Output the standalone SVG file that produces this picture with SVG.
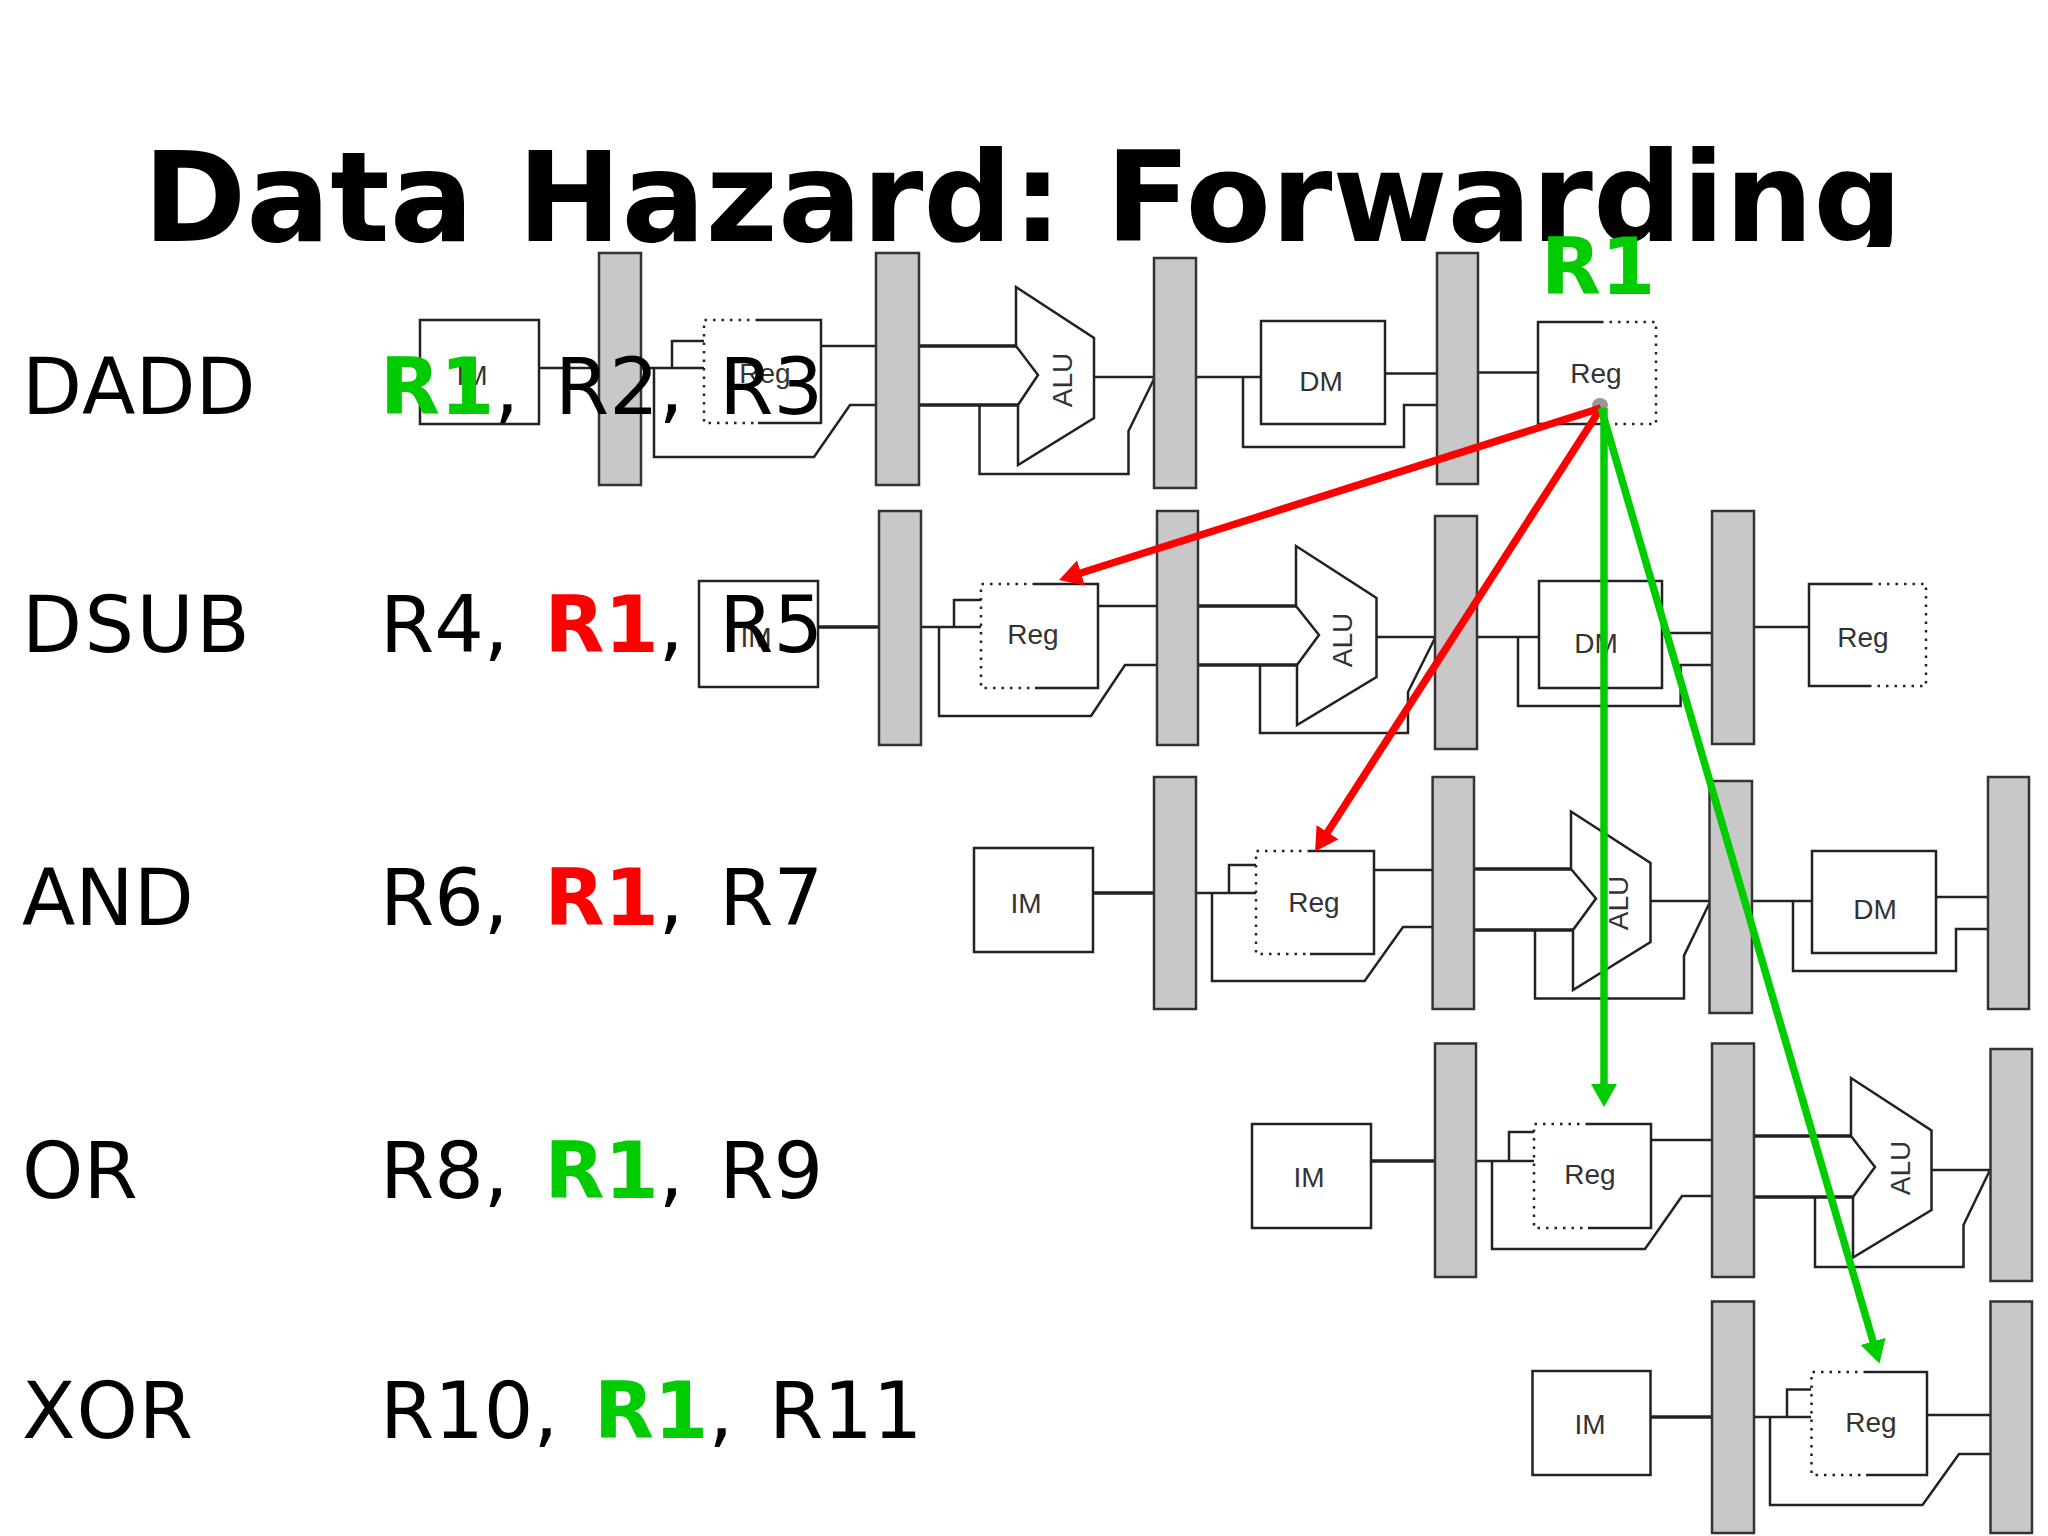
<svg xmlns="http://www.w3.org/2000/svg" width="2048" height="1536" viewBox="0 0 2048 1536">
<style>
.bar{fill:#c8c8c8;stroke:#333;stroke-width:2.5}
.box{fill:#fff;stroke:#222;stroke-width:2.5}
.bg{fill:#fff;stroke:none}
.sol{fill:none;stroke:#222;stroke-width:2.5}
.dot{fill:none;stroke:#222;stroke-width:2.5;stroke-dasharray:2.5 6}
.w{fill:none;stroke:#222;stroke-width:2.5}
.th{fill:none;stroke:#222;stroke-width:3.5}
.alu{fill:#fff;stroke:#222;stroke-width:2.5}
.t{font-family:"Liberation Sans",Arial,sans-serif;font-size:28px;fill:#333;text-anchor:middle}
.title{font-family:"DejaVu Sans",Verdana,sans-serif;font-size:124.500px;font-weight:bold;fill:#000}
.l{font-family:"DejaVu Sans",Verdana,sans-serif;font-size:78px;fill:#000;font-kerning:none;word-spacing:11px}
.g{font-weight:bold;fill:#00cc00}
.r{font-weight:bold;fill:#ff0000}
.ar{fill:none;stroke:#f00;stroke-width:7.5}
.ag{fill:none;stroke:#0c0;stroke-width:7.5}
</style>
<defs>
<marker id="hr" markerUnits="userSpaceOnUse" markerWidth="24" markerHeight="28" refX="1" refY="14" orient="auto"><path d="M0 1L23 14L0 27z" fill="#f00"/></marker>
<marker id="hg" markerUnits="userSpaceOnUse" markerWidth="24" markerHeight="28" refX="1" refY="14" orient="auto"><path d="M0 1L23 14L0 27z" fill="#0c0"/></marker>
</defs>
<rect width="2048" height="1536" fill="#fff"/>
<text class="title" x="143" y="241">Data Hazard: Forwarding</text>
<rect x="0" y="247" width="2048" height="1289" fill="#fff"/>

<g id="connectors">
<!-- row 1 -->
<path class="w" d="M539 368H599M641 368H704M672 368V341H704M654 368V457H814L850 405H876M821 346H876M979.500 405V474H1128.500V431L1154.500 378M1094 377H1155M1196 377H1261M1243 377V447H1404V405H1437M1385 373.500H1437M1478 372.500H1538"/>
<path class="th" d="M919 346H1016M919 405H1018"/>
<!-- row 2 -->
<path class="w" d="M921 627H981M954 627V600H981M939 627V716H1091L1125 665H1157M1098 606H1157M1260 665V733H1408V692L1435 638M1376 637H1435M1477 637H1539M1518 637V706H1680.600V665H1712M1662 633H1712M1754 627H1809"/>
<path class="th" d="M818 627H879M1198 606H1296M1198 665H1297"/>
<!-- row 3 -->
<path class="w" d="M1196 893H1256M1229 893V865H1256M1212 893V981H1364.600L1403 927H1432.600M1374 870H1432.600M1535 930V998.600H1684V955.600L1709.500 903M1650 901H1709.500M1752 901H1812M1793 901V971H1956V929H1988M1936 897H1988"/>
<path class="th" d="M1093 893H1154M1474 869H1571M1474 930H1573"/>
<!-- row 4 -->
<path class="w" d="M1476 1161H1534M1509 1161V1132H1534M1492 1161V1249H1645L1682 1196H1712M1651 1140H1712M1815 1197V1267H1963.500V1225L1990 1170M1931 1170H1990"/>
<path class="th" d="M1371 1161H1435M1754 1136H1851M1754 1197H1853"/>
<!-- row 5 -->
<path class="w" d="M1754 1417H1811M1787 1417V1389.500H1811M1770 1417V1505H1922.500L1959 1454H1990M1927 1415H1990"/>
<path class="th" d="M1650 1417H1712"/>
</g>

<g id="row1">
<g id="r1-im"><rect class="box" x="420" y="320" width="119" height="104"/><text class="t" x="472" y="385">IM</text></g>
<g id="r1-bar1"><rect class="bar" x="599" y="253" width="42" height="232"/></g>
<g id="r1-reg1"><rect class="bg" x="704" y="320" width="117" height="103"/><path class="dot" d="M758 320H704V423H758"/><path class="sol" d="M758 320H821V423H758"/><text class="t" x="765" y="383">Reg</text></g>
<g id="r1-bar2"><rect class="bar" x="876" y="253" width="43" height="232"/></g>
<g id="r1-alu"><path class="alu" d="M1016 287L1094 338V418L1018 465V405L1038 375L1016 346Z"/><text class="t" transform="translate(1072 380) rotate(-90)">ALU</text></g>
<g id="r1-bar3"><rect class="bar" x="1154" y="258" width="42" height="230"/></g>
<g id="r1-dm"><rect class="box" x="1261" y="321" width="124" height="103"/><text class="t" x="1321" y="391">DM</text></g>
<g id="r1-bar4"><rect class="bar" x="1437" y="253" width="41" height="231"/></g>
<g id="r1-reg2"><rect class="bg" x="1538" y="322" width="118" height="102"/><path class="sol" d="M1601 322H1538V424H1601"/><path class="dot" d="M1601 322H1656V424H1601"/><text class="t" x="1596" y="383">Reg</text></g>
</g>

<g id="row2">
<g id="r2-im"><rect class="box" x="699" y="581" width="119" height="106"/><text class="t" x="756" y="647">IM</text></g>
<g id="r2-bar1"><rect class="bar" x="879" y="511" width="42" height="234"/></g>
<g id="r2-reg1"><rect class="bg" x="981" y="584" width="117" height="104"/><path class="dot" d="M1035 584H981V688H1035"/><path class="sol" d="M1035 584H1098V688H1035"/><text class="t" x="1033" y="644">Reg</text></g>
<g id="r2-bar2"><rect class="bar" x="1157" y="511" width="41" height="234"/></g>
<g id="r2-alu"><path class="alu" d="M1296 546L1376.500 598V677L1297 725V665L1319 635L1296 606Z"/><text class="t" transform="translate(1352 640) rotate(-90)">ALU</text></g>
<g id="r2-bar3"><rect class="bar" x="1435" y="516" width="42" height="233"/></g>
<g id="r2-dm"><rect class="box" x="1539" y="581" width="123" height="107"/><text class="t" x="1596" y="653">DM</text></g>
<g id="r2-bar4"><rect class="bar" x="1712" y="511" width="42" height="233"/></g>
<g id="r2-reg2"><rect class="bg" x="1809" y="584" width="117" height="102"/><path class="sol" d="M1870 584H1809V686H1870"/><path class="dot" d="M1870 584H1926V686H1870"/><text class="t" x="1863" y="647">Reg</text></g>
</g>

<g id="row3">
<g id="r3-im"><rect class="box" x="974" y="848" width="119" height="104"/><text class="t" x="1026" y="913">IM</text></g>
<g id="r3-bar1"><rect class="bar" x="1154" y="777" width="42" height="232"/></g>
<g id="r3-reg1"><rect class="bg" x="1256" y="851" width="118" height="103"/><path class="dot" d="M1310 851H1256V954H1310"/><path class="sol" d="M1310 851H1374V954H1310"/><text class="t" x="1314" y="912">Reg</text></g>
<g id="r3-bar2"><rect class="bar" x="1432.600" y="777" width="41.400" height="232"/></g>
<g id="r3-alu"><path class="alu" d="M1571 811.500L1650.500 863V942L1573 990V930L1596 898.500L1571 869Z"/><text class="t" transform="translate(1628 903) rotate(-90)">ALU</text></g>
<g id="r3-bar3"><rect class="bar" x="1709.500" y="781" width="42.500" height="232"/></g>
<g id="r3-dm"><rect class="box" x="1812" y="851" width="124" height="102"/><text class="t" x="1875" y="919">DM</text></g>
<g id="r3-bar4"><rect class="bar" x="1988" y="777" width="41" height="232"/></g>
</g>

<g id="row4">
<g id="r4-im"><rect class="box" x="1252" y="1124" width="119" height="104"/><text class="t" x="1309" y="1187">IM</text></g>
<g id="r4-bar1"><rect class="bar" x="1435" y="1043.500" width="41" height="233.500"/></g>
<g id="r4-reg1"><rect class="bg" x="1534" y="1124" width="117" height="104"/><path class="dot" d="M1588 1124H1534V1228H1588"/><path class="sol" d="M1588 1124H1651V1228H1588"/><text class="t" x="1590" y="1184">Reg</text></g>
<g id="r4-bar2"><rect class="bar" x="1712" y="1043.500" width="42" height="233.500"/></g>
<g id="r4-alu"><path class="alu" d="M1851 1078L1931.500 1130.500V1210L1853 1257.500V1197L1875 1167L1851 1136Z"/><text class="t" transform="translate(1910 1168) rotate(-90)">ALU</text></g>
<g id="r4-bar3"><rect class="bar" x="1990.500" y="1049" width="41.500" height="232"/></g>
</g>

<g id="row5">
<g id="r5-im"><rect class="box" x="1532.500" y="1371" width="118" height="104"/><text class="t" x="1590" y="1434">IM</text></g>
<g id="r5-bar1"><rect class="bar" x="1712" y="1301.500" width="42" height="231.500"/></g>
<g id="r5-reg1"><rect class="bg" x="1811.500" y="1372" width="115.500" height="103"/><path class="dot" d="M1866 1372H1811.500V1475H1866"/><path class="sol" d="M1866 1372H1927V1475H1866"/><text class="t" x="1871" y="1432">Reg</text></g>
<g id="r5-bar2"><rect class="bar" x="1990.500" y="1301.500" width="41.500" height="231.500"/></g>
</g>

<g id="labels">
<text class="l" x="22" y="414">DADD</text>
<text class="l" x="380" y="414"><tspan class="g">R1</tspan>, R2, R3</text>
<text class="l" x="22" y="652" letter-spacing="2.500">DSUB</text>
<text class="l" x="380" y="652">R4, <tspan class="r">R1</tspan>, R5</text>
<text class="l" x="22" y="925">AND</text>
<text class="l" x="380" y="925">R6, <tspan class="r">R1</tspan>, R7</text>
<text class="l" x="22" y="1198">OR</text>
<text class="l" x="380" y="1198">R8, <tspan class="g">R1</tspan>, R9</text>
<text class="l" x="22" y="1438" letter-spacing="1">XOR</text>
<text class="l" x="380" y="1438">R10, <tspan class="g">R1</tspan>, R11</text>
<text class="l g" x="1541" y="294">R1</text>
</g>

<g id="forwarding-arrows">
<ellipse cx="1600" cy="405" rx="8" ry="7" fill="#999"/>
<line class="ar" x1="1601" y1="408" x2="1080" y2="573.300" marker-end="url(#hr)"/>
<line class="ar" x1="1601" y1="408" x2="1327" y2="833" marker-end="url(#hr)"/>
<line class="ag" x1="1604" y1="408" x2="1604" y2="1085" marker-end="url(#hg)"/>
<line class="ag" x1="1601" y1="408" x2="1873.300" y2="1342.400" marker-end="url(#hg)"/>
</g>
</svg>
